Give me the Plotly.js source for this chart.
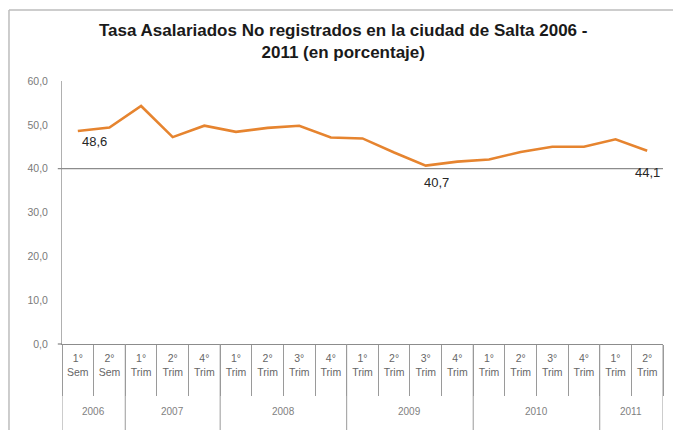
<!DOCTYPE html>
<html><head><meta charset="utf-8">
<script src="https://cdn.plot.ly/plotly-3.0.1.min.js"></script>
<style>html,body{margin:0;padding:0;background:#fff}#c{width:673px;height:430px}</style>
</head><body><div id="c"></div>
<script>
const years = ["2006","2007","2008","2009","2010","2011"];
const periodsPerYear = [
  ["1°<br>Sem","2°<br>Sem"],
  ["1°<br>Trim","2°<br>Trim","4°<br>Trim"],
  ["1°<br>Trim","2°<br>Trim","3°<br>Trim","4°<br>Trim"],
  ["1°<br>Trim","2°<br>Trim","3°<br>Trim","4°<br>Trim"],
  ["1°<br>Trim","2°<br>Trim","3°<br>Trim","4°<br>Trim"],
  ["1°<br>Trim","2°<br>Trim"]
];
const values = [48.6,49.4,54.3,47.2,49.8,48.4,49.3,49.8,47.1,46.9,43.7,40.7,41.6,42.1,43.8,45.0,45.0,46.7,44.1];
const labeledIdx = [0,11,18];

const cats = [], tickText = [];
years.forEach((y,i)=>periodsPerYear[i].forEach((p,j)=>{cats.push(y+"-"+j); tickText.push(p);}));

const fmt = v => v.toFixed(1).replace(".", ",");
const shapes = [];
const annotations = [];
let start = 0;
years.forEach((y,i)=>{
  const n = periodsPerYear[i].length;
  shapes.push({type:"line", xref:"x", yref:"paper", x0:start-0.5, x1:start-0.5, y0:0, y1:-0.327, line:{color:"#9a9a9a", width:1}});
  annotations.push({xref:"x", yref:"paper", x:start+(n-1)/2, y:-0.255, text:y, showarrow:false, font:{size:10, color:"#7f7f7f"}, yanchor:"middle"});
  start += n;
});
shapes.push({type:"line", xref:"x", yref:"paper", x0:start-0.5, x1:start-0.5, y0:0, y1:-0.327, line:{color:"#9a9a9a", width:1}});
shapes.push({type:"line", xref:"paper", yref:"y", x0:-0.007, x1:1, y0:40, y1:40, line:{color:"#8c8c8c", width:1.3}});
shapes.push({type:"line", xref:"paper", yref:"paper", x0:-0.007, x1:0, y0:0, y1:0, line:{color:"#8c8c8c", width:1.3}});
shapes.push({type:"line", xref:"paper", yref:"paper", x0:-0.0882, x1:1.2, y0:1.27, y1:1.27, line:{color:"#bdbdbd", width:1.5}});
shapes.push({type:"line", xref:"paper", yref:"paper", x0:-0.0882, x1:-0.0882, y0:1.27, y1:-0.4, line:{color:"#bdbdbd", width:1.5}});

// label offsets (pixels) as placed in the original chart
const labelShift = {0:[17,-11], 11:[11,-17], 18:[0,-22]};
labeledIdx.forEach(i=>{
  annotations.push({xref:"x", yref:"y", x:cats[i], y:values[i], text:fmt(values[i]), showarrow:false,
    xshift:labelShift[i][0], yshift:labelShift[i][1], font:{size:13, color:"#262626"}});
});

Plotly.newPlot("c", [{
  x: cats, y: values, type:"scatter", mode:"lines",
  line:{color:"#E6842F", width:2.6}, hoverinfo:"none"
}], {
  width:673, height:430,
  margin:{l:62, r:10, t:81, b:86},
  paper_bgcolor:"#fff", plot_bgcolor:"#fff",
  separators:",.",
  font:{family:"Liberation Sans, Arial, sans-serif", color:"#595959"},
  title:{text:"<b>Tasa Asalariados No registrados en la ciudad de Salta 2006 -<br>2011 (en porcentaje)</b>", x:0.51, xanchor:"center", y:0.916, yanchor:"middle", font:{size:17, color:"#1a1a1a"}},
  showlegend:false,
  xaxis:{type:"category", tickmode:"array", tickvals:cats, ticktext:tickText, tickson:"boundaries",
    ticks:"outside", ticklen:51, tickcolor:"#9a9a9a", tickwidth:1, ticklabelstandoff:4,
    showline:true, linecolor:"#8c8c8c", linewidth:1.3, showgrid:false, zeroline:false,
    tickfont:{size:10.5, color:"#666"}, tickangle:0, range:[-0.5, cats.length-0.5], fixedrange:true},
  yaxis:{range:[0,60], dtick:10, tickformat:".1f", showgrid:false, zeroline:false,
    showline:true, linecolor:"#b0b0b0", linewidth:1, ticks:"", ticklabelstandoff:11,
    tickfont:{size:10.5, color:"#7a7a7a"}, fixedrange:true},
  shapes: shapes, annotations: annotations
}, {staticPlot:true});
</script></body></html>
